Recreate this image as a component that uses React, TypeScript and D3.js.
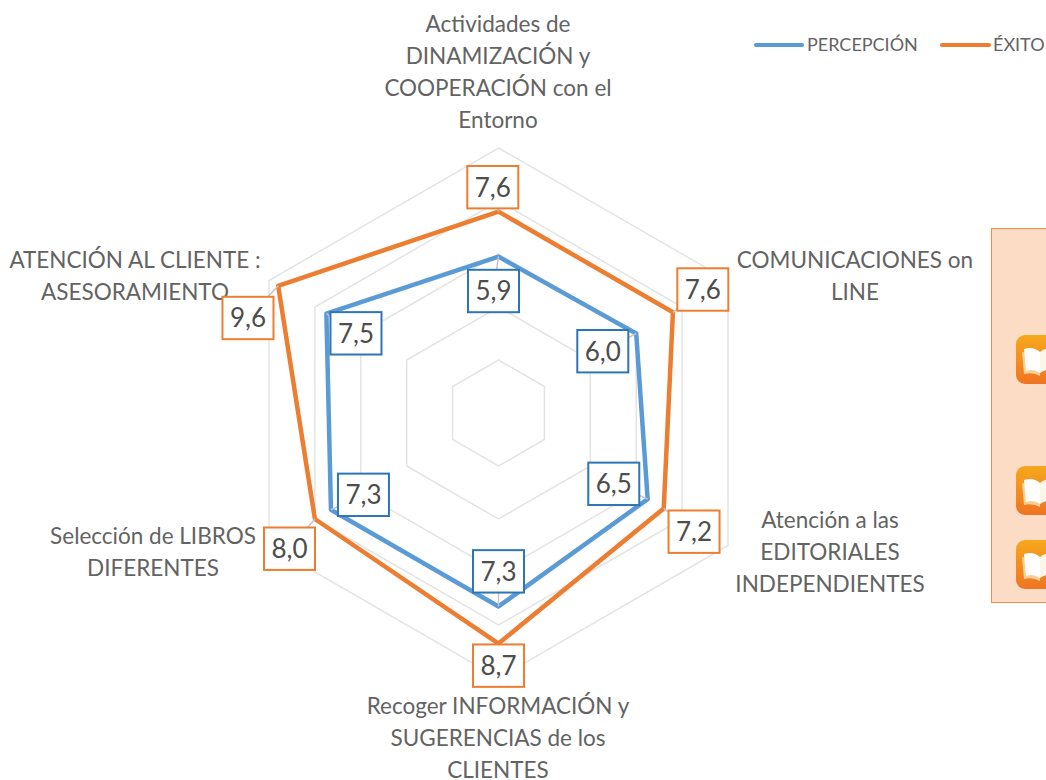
import * as d3 from 'd3';

const WIDTH = 1046;
const HEIGHT = 780;
const CENTER = { x: 498.5, y: 413 };
const RADIUS = 265;
const FONT = 'Lato, Carlito, sans-serif';

const perception = [5.9, 6.0, 6.5, 7.3, 7.3, 7.5];
const exito = [7.6, 7.6, 7.2, 8.7, 8.0, 9.6];
const gridLevels = [2, 4, 6, 8, 10];

const categoryLabels = [
  ['Actividades de', 'DINAMIZACIÓN y', 'COOPERACIÓN con el', 'Entorno'],
  ['COMUNICACIONES on', 'LINE'],
  ['Atención a las', 'EDITORIALES', 'INDEPENDIENTES'],
  ['Recoger INFORMACIÓN y', 'SUGERENCIAS de los', 'CLIENTES'],
  ['Selección de LIBROS', 'DIFERENTES'],
  ['ATENCIÓN AL CLIENTE :', 'ASESORAMIENTO'],
];

// dónde va cada texto de categoría (centro x, primera línea y)
const categoryAnchors = [
  [498, 24],
  [855, 260],
  [830, 520],
  [498, 706],
  [153, 536],
  [135, 260],
];

// desplazamiento de las etiquetas respecto a su vértice
const exitoOffsets = [
  [-5.7, -24.4],
  [29.9, -22.8],
  [30.3, 23.3],
  [0, 22.1],
  [-25.4, 29.7],
  [-30.2, 32.2],
];
const perceptionOffsets = [
  [-5, 34.35],
  [-33.4, 17.7],
  [-33.9, -15.3],
  [0, -35.1],
  [32.5, -14.9],
  [29.6, 19.7],
];

const bookRows = [335, 466, 540];

const r = d3.scaleLinear().domain([0, 10]).range([0, RADIUS]);
const angle = d3
  .scalePoint<number>()
  .domain(d3.range(7))
  .range([0, 2 * Math.PI]);

const radar = d3
  .lineRadial<number>()
  .angle((_, i) => angle(i) as number)
  .radius((d) => r(d))
  .curve(d3.curveLinearClosed);

const vertex = (v: number, i: number) => {
  const [x, y] = d3.pointRadial(angle(i) as number, r(v));
  return [CENTER.x + x, CENTER.y + y];
};

function ValueBox({ value, i, offsets, stroke }: { value: number; i: number; offsets: number[][]; stroke: string }) {
  const [px, py] = vertex(value, i);
  const cx = px + offsets[i][0];
  const cy = py + offsets[i][1];
  return (
    <g>
      <line x1={px} y1={py} x2={cx} y2={cy} stroke="#c4c4c4" strokeWidth={1.5} />
      <rect x={cx - 25.5} y={cy - 21.2} width={51} height={42.4} fill="#fff" stroke={stroke} strokeWidth={2} />
      <text x={cx} y={cy} dy="0.36em" textAnchor="middle" fontSize={26} fill="#4d4d4d">
        {value.toFixed(1).replace('.', ',')}
      </text>
    </g>
  );
}

function BookIcon({ y }: { y: number }) {
  return (
    <g transform={`translate(1016,${y})`}>
      <rect width={49} height={49} rx={9} fill="url(#bookBg)" />
      <path d="M6 17 L8 39 Q17 37 24 41 L24 20 Z" fill="#f6cf94" />
      <path d="M8 14 Q17 11 24 17 L24 38 Q17 33 10 36 Z" fill="#fff" />
      <path d="M24 17 Q31 11 41 14 L39 36 Q31 33 24 38 Z" fill="#fbf6ea" />
    </g>
  );
}

export default function App() {
  return (
    <svg
      width={WIDTH}
      height={HEIGHT}
      viewBox={`0 0 ${WIDTH} ${HEIGHT}`}
      style={{ position: 'absolute', left: 0, top: 0, display: 'block', background: '#fff' }}
      fontFamily={FONT}
    >
      <defs>
        <linearGradient id="bookBg" x1="0" y1="0" x2="0" y2="1">
          <stop offset="0%" stopColor="#f6a81c" />
          <stop offset="100%" stopColor="#ef7423" />
        </linearGradient>
      </defs>

      <g transform={`translate(${CENTER.x},${CENTER.y})`}>
        {gridLevels.map((level) => (
          <path
            key={level}
            d={radar(d3.range(6).map(() => level)) as string}
            fill="none"
            stroke="#e4e4e4"
            strokeWidth={1.5}
          />
        ))}
        <path d={radar(perception) as string} fill="none" stroke="#5b9bd5" strokeWidth={4.5} strokeLinejoin="round" />
        <path d={radar(exito) as string} fill="none" stroke="#ed7d31" strokeWidth={4.5} strokeLinejoin="round" />
      </g>

      {categoryLabels.map((lines, i) => (
        <text key={i} textAnchor="middle" fontSize={22.5} fill="#636363">
          {lines.map((line, j) => (
            <tspan key={line} x={categoryAnchors[i][0]} y={categoryAnchors[i][1] + j * 32} dy="0.35em">
              {line}
            </tspan>
          ))}
        </text>
      ))}

      {perception.map((v, i) => (
        <ValueBox key={`p${i}`} value={v} i={i} offsets={perceptionOffsets} stroke="#2e75b6" />
      ))}
      {exito.map((v, i) => (
        <ValueBox key={`e${i}`} value={v} i={i} offsets={exitoOffsets} stroke="#ed7d31" />
      ))}

      <g fontSize={18} fill="#636363">
        <line x1={756} x2={802} y1={45} y2={45} stroke="#5b9bd5" strokeWidth={4} strokeLinecap="round" />
        <text x={807} y={45} dy="0.35em">PERCEPCIÓN</text>
        <line x1={942} x2={989} y1={45} y2={45} stroke="#ed7d31" strokeWidth={4} strokeLinecap="round" />
        <text x={993} y={45} dy="0.35em">ÉXITO</text>
      </g>

      <rect x={991.5} y={228.5} width={60} height={374} fill="#fddcc6" stroke="#f58b45" strokeWidth={1} />
      {bookRows.map((y) => (
        <BookIcon key={y} y={y} />
      ))}
    </svg>
  );
}
